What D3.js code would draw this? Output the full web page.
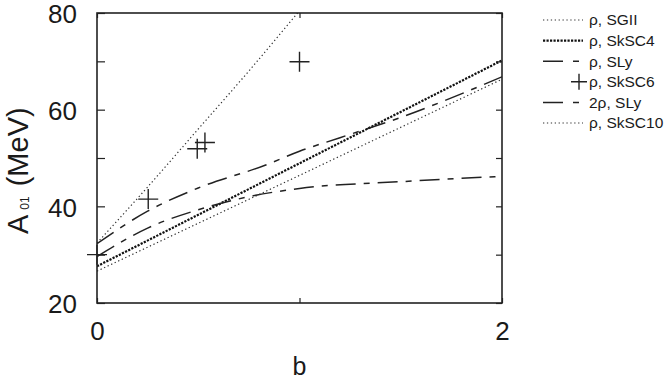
<!doctype html>
<html lang="en">
<head>
	<meta charset="utf-8">
	<title>A01 vs b</title>
	<script src="https://cdn.jsdelivr.net/npm/d3@7/dist/d3.min.js"></script>
	<style>
		body { margin: 0; background: #fff; }
		text { font-family: "Liberation Sans", Arial, Helvetica, sans-serif; fill: #1a1a1a; }
	</style>
</head>
<body>
	<svg id="chart" width="670" height="380"></svg>
	<script>
		// values
		var xTicks = [0, 1, 2];
		var xLabels = [0, 2];
		var yTicks = [20, 30, 40, 50, 60, 70, 80];
		var yLabels = [20, 40, 60, 80];

		var bSGII = [0, 0.25, 0.5, 0.75, 1.0];
		var aSGII = [32.4, 44.0, 56.0, 68.0, 80.5];

		var bSkSC4 = [0, 1, 2];
		var aSkSC4 = [27.6, 48.9, 70.2];

		var bSLy = [0, 0.25, 0.5, 0.75, 1.0, 1.5, 2.0];
		var aSLy = [29.6, 35.5, 39.3, 42.0, 43.7, 45.1, 46.2];

		var b2SLy = [0, 0.25, 0.5, 0.83, 1.0, 1.2, 1.5, 2.0];
		var a2SLy = [32.3, 39.0, 43.8, 48.5, 51.4, 54.2, 58.4, 66.8];

		var bSkSC10 = [0, 1, 2];
		var aSkSC10 = [26.6, 46.4, 66.3];

		var bSkSC6 = [0, 0.253, 0.495, 0.533, 1.0];
		var aSkSC6 = [30.0, 41.5, 51.9, 53.2, 69.9];

		var legendNames = ["\u03c1, SGII", "\u03c1, SkSC4", "\u03c1, SLy", "\u03c1, SkSC6", "2\u03c1, SLy", "\u03c1, SkSC10"];

		var svg = d3.select("#chart");
		var xScale = d3.scaleLinear().domain([0, 2]).range([97, 502]);
		var yScale = d3.scaleLinear().domain([20, 80]).range([303, 13]);

		svg.append("clipPath").attr("id", "plotClip")
			.append("rect")
			.attr("x", xScale(0)).attr("y", yScale(80))
			.attr("width", xScale(2) - xScale(0)).attr("height", yScale(20) - yScale(80));

		// styles for the curves: sparse dots, dense dots, long-short dash
		var sparse = { dash: "1.3,2.6", width: 1.2, color: "#333" };
		var dense = { dash: "2.2,1.3", width: 2.2, color: "#111" };
		var dashed = { dash: "20,8,6,8", width: 1.5, color: "#222" };

		var series = [
			{ b: bSGII, a: aSGII, st: sparse },
			{ b: bSkSC4, a: aSkSC4, st: dense },
			{ b: bSLy, a: aSLy, st: dashed },
			{ b: b2SLy, a: a2SLy, st: dashed },
			{ b: bSkSC10, a: aSkSC10, st: sparse }
		];

		var line = d3.line()
			.x(function(d) { return xScale(d[0]); })
			.y(function(d) { return yScale(d[1]); });

		var curves = svg.append("g").attr("clip-path", "url(#plotClip)");
		series.forEach(function(s) {
			var pts = s.b.map(function(v, i) { return [v, s.a[i]]; });
			curves.append("path")
				.attr("d", line.curve(s.b.length > 3 ? d3.curveMonotoneX : d3.curveLinear)(pts))
				.attr("fill", "none")
				.attr("stroke", s.st.color)
				.attr("stroke-width", s.st.width)
				.attr("stroke-dasharray", s.st.dash);
		});

		// SkSC6 points as crosses
		function cross(x, y, r) {
			return "M" + (x - r) + "," + y + "h" + (2 * r) + "M" + x + "," + (y - r) + "v" + (2 * r);
		}
		svg.append("g").selectAll("path.pt")
			.data(bSkSC6)
			.enter()
			.append("path")
			.attr("class", "pt")
			.attr("d", function(d, i) { return cross(xScale(d), yScale(aSkSC6[i]), 10); })
			.attr("stroke", "#222")
			.attr("stroke-width", 1.4)
			.attr("fill", "none");

		// axes, ticks pointing inward
		var axBottom = d3.axisBottom(xScale).tickValues(xTicks).tickSizeInner(-5).tickSizeOuter(0).tickPadding(19)
			.tickFormat(function(d) { return xLabels.indexOf(d) >= 0 ? d : ""; });
		var axTop = d3.axisTop(xScale).tickValues(xTicks).tickSizeInner(-5).tickSizeOuter(0).tickFormat("");
		var axLeft = d3.axisLeft(yScale).tickValues(yTicks).tickSizeInner(-8).tickSizeOuter(0).tickPadding(20)
			.tickFormat(function(d) { return yLabels.indexOf(d) >= 0 ? d : ""; });
		var axRight = d3.axisRight(yScale).tickValues(yTicks).tickSizeInner(-6).tickSizeOuter(0).tickFormat("");

		var axes = [
			[axBottom, "translate(0," + yScale(20) + ")"],
			[axTop, "translate(0," + yScale(80) + ")"],
			[axLeft, "translate(" + xScale(0) + ",0)"],
			[axRight, "translate(" + xScale(2) + ",0)"]
		];
		axes.forEach(function(a) {
			var g = svg.append("g").attr("transform", a[1]).call(a[0]);
			g.select(".domain").remove();
			g.selectAll("line").attr("stroke", "#222").attr("stroke-width", 1.2);
			g.selectAll("text").style("font-size", "26px").attr("fill", "#1a1a1a");
		});
		// y labels sit a little lower, like the reference
		svg.selectAll("g").filter(function() { return this.getAttribute("transform") === "translate(" + xScale(0) + ",0)"; })
			.selectAll("text").attr("dy", "0.38em");

		svg.append("rect")
			.attr("x", xScale(0)).attr("y", yScale(80))
			.attr("width", xScale(2) - xScale(0)).attr("height", yScale(20) - yScale(80))
			.attr("fill", "none").attr("stroke", "#222").attr("stroke-width", 1.6);

		// axis titles
		svg.append("text")
			.attr("x", xScale(1)).attr("y", 375)
			.attr("text-anchor", "middle")
			.style("font-size", "25px")
			.text("b");

		var yt = svg.append("text")
			.attr("transform", "translate(28,234) rotate(-90)")
			.attr("text-anchor", "start")
			.style("font-size", "29px");
		yt.append("tspan").text("A");
		yt.append("tspan").attr("dx", 5).attr("dy", 1).style("font-size", "12px").text("01");
		yt.append("tspan").attr("dx", 10).attr("dy", -1).text("(MeV)");

		// legend
		var legendStyles = [sparse, dense, dashed, null, dashed, sparse];
		var lg = svg.append("g");
		legendNames.forEach(function(name, i) {
			var y = 20 + i * 20.6;
			var st = legendStyles[i];
			if (st) {
				lg.append("line")
					.attr("x1", 543).attr("x2", 583).attr("y1", y).attr("y2", y)
					.attr("stroke", st.color).attr("stroke-width", st.width)
					.attr("stroke-dasharray", st === dashed ? "20,10,6,30" : st.dash);
			} else {
				lg.append("path").attr("d", cross(579, y, 8))
					.attr("stroke", "#222").attr("stroke-width", 1.4);
			}
			lg.append("text")
				.attr("x", 589).attr("y", y)
				.attr("dy", "0.35em")
				.style("font-size", "15.5px")
				.text(name);
		});
	</script>
</body>
</html>
